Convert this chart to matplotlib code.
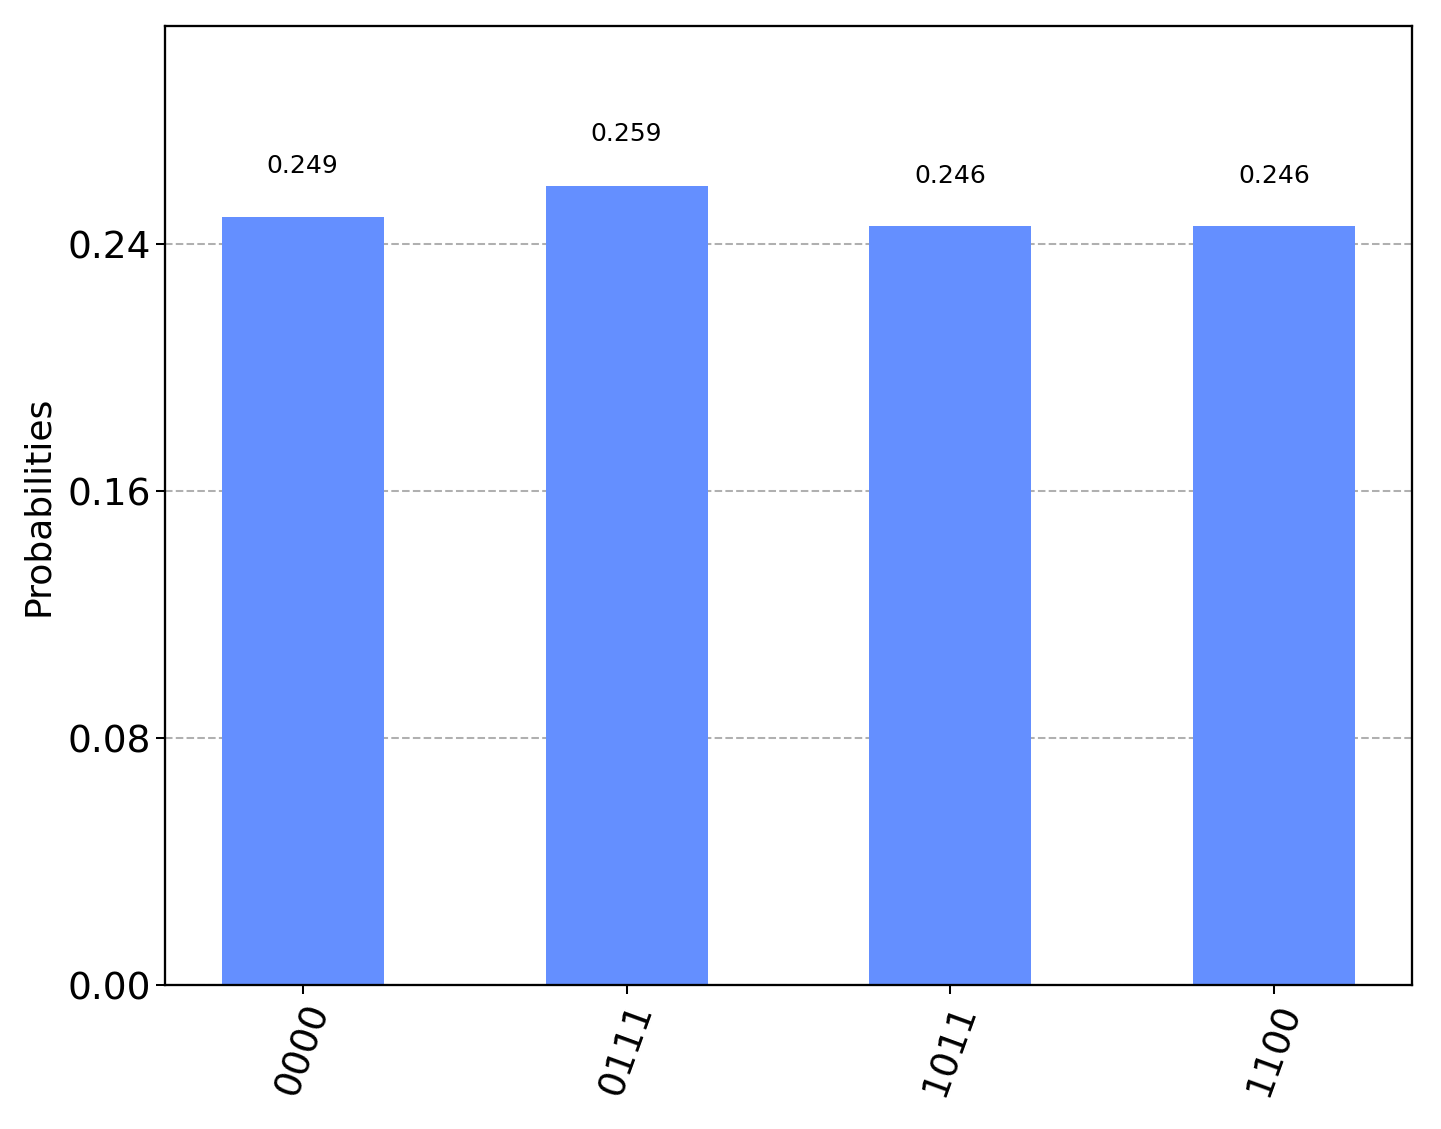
import matplotlib
matplotlib.use("Agg")
import matplotlib.pyplot as plt

states = ["0000", "0111", "1011", "1100"]
probs = [0.249, 0.259, 0.246, 0.246]
yticks = [0.00, 0.08, 0.16, 0.24]

S = 1.83
fig = plt.figure(figsize=(14.41, 11.29), dpi=100)
ax = fig.add_axes([0.1145, 0.1275, 0.8654, 0.8495])
x = list(range(len(states)))
bars = ax.bar(x, probs, width=0.5, color="#648fff", zorder=2)
for rect, p in zip(bars, probs):
    ax.text(rect.get_x() + rect.get_width() / 2, 1.05 * p, f"{p:.3f}",
            ha="center", va="bottom", fontsize=18)
ax.set_ylim(0, max(probs) * 1.2)
ax.set_yticks(yticks)
ax.set_yticklabels([f"{v:.2f}" for v in yticks])
ax.set_xticks(x)
ax.set_xticklabels(states, rotation=70)
ax.tick_params(labelsize=27, width=0.8 * S, length=3.5 * S)
ax.set_ylabel("Probabilities", fontsize=26, labelpad=9)
ax.grid(which="major", axis="y", zorder=0, linestyle="--", linewidth=0.8 * S)
for sp in ax.spines.values():
    sp.set_linewidth(0.9 * S)
fig.savefig("out.png", dpi=100)
